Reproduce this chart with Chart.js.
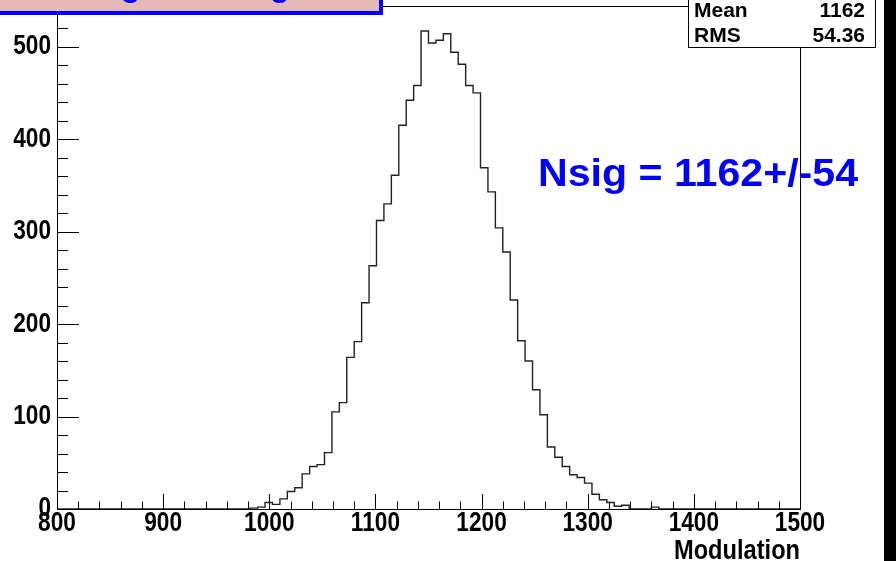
<!DOCTYPE html>
<html>
<head>
<meta charset="utf-8">
<title>Modulation</title>
<script src="https://cdn.jsdelivr.net/npm/chart.js@4.4.1/dist/chart.umd.min.js"></script>
<style>
    html, body { margin: 0; padding: 0; background: #fff; }
    canvas { display: block; }
</style>
</head>
<body>
<canvas id="hist" width="896" height="561"></canvas>
<script>
// Histogram binning
const xMin = 800;
const xMax = 1500;
const binWidth = 7;

// Entries per bin (100 bins from 800 to 1500)
const binCounts = [
    0, 0, 0, 0, 0, 0, 0, 0, 0, 0,
    0, 0, 0, 0, 0, 0, 0, 0, 0, 0,
    0, 0, 0, 0, 0, 0, 1, 2, 7, 5,
    11, 19, 23, 38, 46, 48, 61, 105, 115, 164,
    181, 223, 263, 312, 330, 361, 415, 442, 458, 517,
    504, 507, 514, 494, 481, 458, 450, 369, 343, 304,
    278, 226, 182, 160, 129, 102, 67, 56, 46, 37,
    34, 28, 16, 10, 7, 3, 4, 0, 0, 0,
    2, 0, 0, 0, 0, 0, 0, 0, 0, 0,
    0, 0, 0, 0, 0, 0, 0, 0, 0, 0
];

const yMax = 544;
const statsLabels = ['Mean', 'RMS'];
const statsValues = ['1162', '54.36'];
const resultText = 'Nsig = 1162+/-54';
const titleText = 'Nsig for fitting';
const axisTitle = 'Modulation';

const labelFont = 'bold 27px "Liberation Sans", Arial, sans-serif';
const narrow = 0.84; // horizontal squeeze for the axis lettering

// step points: one per bin low edge, plus the closing edge
const points = binCounts.map((c, i) => ({ x: xMin + i * binWidth, y: c }));
points.push({ x: xMax, y: binCounts[binCounts.length - 1] });

function squeezedText(ctx, text, x, y, sx, align) {
    ctx.save();
    ctx.translate(x, y);
    ctx.scale(sx, 1);
    ctx.textAlign = align;
    ctx.fillText(text, 0, 0);
    ctx.restore();
}

// frame, inward ticks, labels and the text boxes on top of the plot
const decorations = {
    id: 'decorations',
    afterDraw(chart) {
        const ctx = chart.ctx;
        const xs = chart.scales.x;
        const ys = chart.scales.y;
        const area = chart.chartArea;

        ctx.save();
        ctx.strokeStyle = '#000';
        ctx.lineWidth = 1;

        // x ticks
        ctx.beginPath();
        for (let v = xMin; v <= xMax; v += 20) {
            const px = Math.round(xs.getPixelForValue(v)) + 0.5;
            const len = v % 100 === 0 ? 15 : 7.5;
            ctx.moveTo(px, area.bottom);
            ctx.lineTo(px, area.bottom - len);
        }
        // y ticks
        for (let v = 0; v <= yMax; v += 20) {
            const py = Math.round(ys.getPixelForValue(v)) + 0.5;
            const len = v % 100 === 0 ? 22 : 11;
            ctx.moveTo(area.left, py);
            ctx.lineTo(area.left + len, py);
        }
        ctx.stroke();

        // frame
        ctx.strokeRect(Math.round(area.left) + 0.5, Math.round(area.top) + 0.5,
            Math.round(area.right - area.left), Math.round(area.bottom - area.top));

        // tick labels
        ctx.fillStyle = '#000';
        ctx.font = labelFont;
        ctx.textBaseline = 'middle';
        xs.ticks.forEach(t => {
            squeezedText(ctx, String(t.value), xs.getPixelForValue(t.value), area.bottom + 15, narrow, 'center');
        });
        ys.ticks.forEach(t => {
            squeezedText(ctx, String(t.value), area.left - 6, ys.getPixelForValue(t.value), narrow, 'right');
        });

        // x axis title
        ctx.textBaseline = 'alphabetic';
        const tw = ctx.measureText(axisTitle).width;
        squeezedText(ctx, axisTitle, area.right, 559, 126 / tw, 'right');

        // stats box
        ctx.fillStyle = '#fff';
        ctx.fillRect(688.5, -20, 187, 67.5);
        ctx.strokeRect(688.5, -20, 187, 67.5);
        ctx.fillStyle = '#000';
        ctx.font = 'bold 21px "Liberation Sans", Arial, sans-serif';
        statsLabels.forEach((label, i) => {
            const base = 17 + i * 24.5;
            ctx.textAlign = 'left';
            ctx.fillText(label, 694, base);
            ctx.textAlign = 'right';
            ctx.fillText(statsValues[i], 865, base);
        });

        // fit result
        ctx.fillStyle = '#0000ff';
        ctx.font = 'bold 39px "Liberation Sans", Arial, sans-serif';
        const w = ctx.measureText(resultText).width;
        squeezedText(ctx, resultText, 538, 186, 320 / w, 'left');

        // title box
        ctx.fillStyle = '#e6b9b9';
        ctx.fillRect(-10, -40, 393, 55);
        ctx.strokeStyle = '#0000ff';
        ctx.lineWidth = 4;
        ctx.strokeRect(-10, -40, 391, 53);
        ctx.fillStyle = '#0000ff';
        ctx.font = 'bold 32px "Liberation Sans", Arial, sans-serif';
        ctx.textAlign = 'left';
        ctx.fillText(titleText, 71, -4);

        // dark edge on the right
        ctx.fillStyle = '#000';
        ctx.fillRect(884, 0, 12, 561);
        ctx.restore();
    }
};

function noPadding(s) {
    s.paddingTop = 0;
    s.paddingBottom = 0;
    s.paddingLeft = 0;
    s.paddingRight = 0;
}

new Chart(document.getElementById('hist'), {
    type: 'line',
    data: {
        datasets: [{
            data: points,
            stepped: true,
            borderColor: '#222',
            borderWidth: 1.4,
            pointRadius: 0,
            fill: false
        }]
    },
    options: {
        responsive: false,
        animation: false,
        layout: { padding: { left: 0, top: 6, right: 96, bottom: 0 } },
        plugins: {
            legend: { display: false },
            tooltip: { enabled: false }
        },
        scales: {
            x: {
                type: 'linear',
                min: xMin,
                max: xMax,
                ticks: { stepSize: 100, display: false },
                grid: { display: false, drawTicks: false },
                border: { display: false },
                afterFit: s => { s.height = 52; noPadding(s); }
            },
            y: {
                min: 0,
                max: yMax,
                ticks: { stepSize: 100, display: false },
                grid: { display: false, drawTicks: false },
                border: { display: false },
                afterBuildTicks: s => { s.ticks = s.ticks.filter(t => t.value % 100 === 0); },
                afterFit: s => { s.width = 57; noPadding(s); }
            }
        }
    },
    plugins: [decorations]
});
</script>
</body>
</html>
